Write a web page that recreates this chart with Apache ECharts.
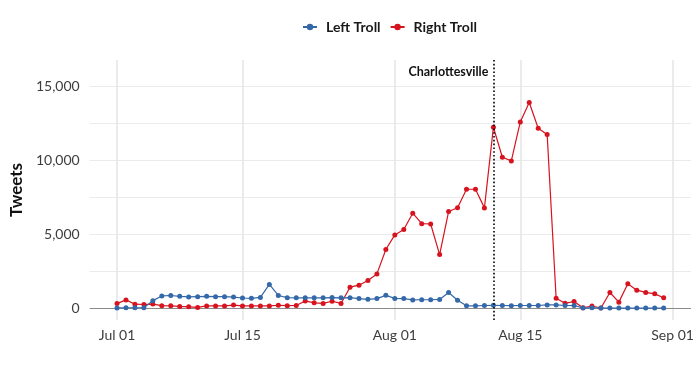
<!DOCTYPE html>
<html>
<head>
<meta charset="utf-8">
<script src="https://cdn.jsdelivr.net/npm/echarts@6/dist/echarts.min.js"></script>
<style>
  html, body { margin: 0; padding: 0; background: #ffffff; }
  #chart { width: 700px; height: 368px; }
</style>
</head>
<body>
<div id="chart"></div>
<script>
const dates = [
  '2017-07-01','2017-07-02','2017-07-03','2017-07-04','2017-07-05','2017-07-06','2017-07-07','2017-07-08',
  '2017-07-09','2017-07-10','2017-07-11','2017-07-12','2017-07-13','2017-07-14','2017-07-15','2017-07-16',
  '2017-07-17','2017-07-18','2017-07-19','2017-07-20','2017-07-21','2017-07-22','2017-07-23','2017-07-24',
  '2017-07-25','2017-07-26','2017-07-27','2017-07-28','2017-07-29','2017-07-30','2017-07-31',
  '2017-08-01','2017-08-02','2017-08-03','2017-08-04','2017-08-05','2017-08-06','2017-08-07','2017-08-08',
  '2017-08-09','2017-08-10','2017-08-11','2017-08-12','2017-08-13','2017-08-14','2017-08-15','2017-08-16',
  '2017-08-17','2017-08-18','2017-08-19','2017-08-20','2017-08-21','2017-08-22','2017-08-23','2017-08-24',
  '2017-08-25','2017-08-26','2017-08-27','2017-08-28','2017-08-29','2017-08-30','2017-08-31'
];
const leftTroll = [
  20, 30, 30, 30, 510, 830, 860, 800, 760, 780, 800, 780, 780, 750, 690, 670,
  730, 1610, 860, 710, 700, 700, 700, 700, 720, 700, 710, 650, 600, 650, 870,
  660, 650, 560, 570, 570, 590, 1060, 540, 160, 160, 180, 200, 180, 170, 180, 180,
  180, 220, 220, 180, 180, 20, 30, 10, 10, 10, 10, 10, 10, 10, 10
];
const rightTroll = [
  310, 560, 270, 250, 280, 170, 160, 120, 90, 50, 150, 150, 150, 210, 150, 150,
  150, 150, 200, 170, 180, 490, 360, 320, 470, 320, 1420, 1555, 1870, 2320, 3970,
  4960, 5330, 6430, 5720, 5700, 3630, 6540, 6800, 8050, 8050, 6790, 12250, 10220, 9970, 12610, 13920,
  12180, 11750, 670, 330, 450, 30, 150, 10, 1060, 410, 1660, 1220, 1070, 970, 710
];
const seriesNames = ['Left Troll', 'Right Troll'];
const tickDates = ['2017-07-01', '2017-07-15', '2017-08-01', '2017-08-15', '2017-09-01'];
const tickLabels = ['Jul 01', 'Jul 15', 'Aug 01', 'Aug 15', 'Sep 01'];
const yTicks = [0, 5000, 10000, 15000];
const yGridLines = [2500, 5000, 7500, 10000, 12500, 15000];
const eventDate = '2017-08-12';
const eventLabel = 'Charlottesville';
const eventLabelY = 16000;
const yAxisTitle = 'Tweets';

const DAY = 86400000;
const toTime = s => { const p = s.split('-').map(Number); return Date.UTC(p[0], p[1] - 1, p[2]); };
const tickTimes = tickDates.map(toTime);
const xMin = toTime(dates[0]) - 3.05 * DAY;
const xMax = toTime(dates[dates.length - 1]) + 3.05 * DAY;

const FONT = 'Lato';
const chart = echarts.init(document.getElementById('chart'), null, { renderer: 'canvas' });

const gridMarks = {
  silent: true,
  symbol: 'none',
  z: 1,
  label: { show: false },
  animation: false,
  data: [
    ...yGridLines.map(v => ({ yAxis: v, lineStyle: { color: '#ebebeb', width: 1, type: 'solid' } })),
    ...tickTimes.map(t => ({ xAxis: t, lineStyle: { color: '#e6e6e6', width: 1.6, type: 'solid' } })),
    { yAxis: 0, lineStyle: { color: '#8a8a8a', width: 1, type: 'solid' } }
  ]
};

chart.setOption({
  animation: false,
  backgroundColor: '#ffffff',
  textStyle: { fontFamily: FONT },
  grid: { left: 80, right: 9, top: 60, bottom: 48, containLabel: false },
  legend: {
    data: seriesNames,
    top: 15,
    left: 297,
    itemWidth: 14,
    itemHeight: 8,
    itemGap: 9,
    textStyle: { fontFamily: FONT, fontSize: 14, fontWeight: 'bold', color: '#1a1a1a', padding: [0, 0, 0, 4] }
  },
  xAxis: {
    type: 'value',
    min: xMin,
    max: xMax,
    axisLine: { show: false },
    axisTick: { show: false },
    splitLine: { show: false },
    axisLabel: {
      customValues: tickTimes,
      margin: 8,
      fontFamily: FONT,
      fontSize: 14,
      color: '#3d3d3d',
      formatter: v => {
        const i = tickTimes.indexOf(v);
        return i >= 0 ? tickLabels[i] : '';
      }
    }
  },
  yAxis: {
    type: 'value',
    min: -800,
    max: 16800,
    name: yAxisTitle,
    nameLocation: 'middle',
    nameRotate: 90,
    nameGap: 58,
    nameTextStyle: { fontFamily: FONT, fontSize: 17, fontWeight: 'bold', color: '#111' },
    axisLine: { show: false },
    axisTick: { show: false },
    splitLine: { show: false },
    axisLabel: {
      customValues: yTicks,
      margin: 10,
      fontFamily: FONT,
      fontSize: 14,
      color: '#3d3d3d',
      formatter: v => Number(v).toLocaleString('en-US')
    }
  },
  series: [
    {
      name: seriesNames[0],
      type: 'line',
      z: 3,
      data: dates.map((d, i) => [toTime(d), leftTroll[i]]),
      symbol: 'circle',
      symbolSize: 5,
      color: '#3468a8',
      lineStyle: { width: 1.2, color: '#3468a8' },
      itemStyle: { color: '#3468a8' },
      markLine: gridMarks
    },
    {
      name: seriesNames[1],
      type: 'line',
      z: 2,
      data: dates.map((d, i) => [toTime(d), rightTroll[i]]),
      symbol: 'circle',
      symbolSize: 5,
      color: '#d7131f',
      lineStyle: { width: 1.2, color: '#d7131f' },
      itemStyle: { color: '#d7131f' },
      markLine: {
        silent: true,
        symbol: 'none',
        z: 6,
        label: { show: false },
        data: [{ xAxis: toTime(eventDate), lineStyle: { color: '#000', width: 1.6, type: [1.6, 2.2] } }]
      },
      markPoint: {
        silent: true,
        data: [{
          coord: [toTime(eventDate), eventLabelY],
          symbol: 'circle',
          symbolSize: 0,
          label: {
            show: true,
            position: 'left',
            distance: 5,
            formatter: eventLabel,
            fontFamily: FONT,
            fontSize: 12.5,
            fontWeight: 'bold',
            color: '#111'
          }
        }]
      }
    }
  ]
});
</script>
</body>
</html>
